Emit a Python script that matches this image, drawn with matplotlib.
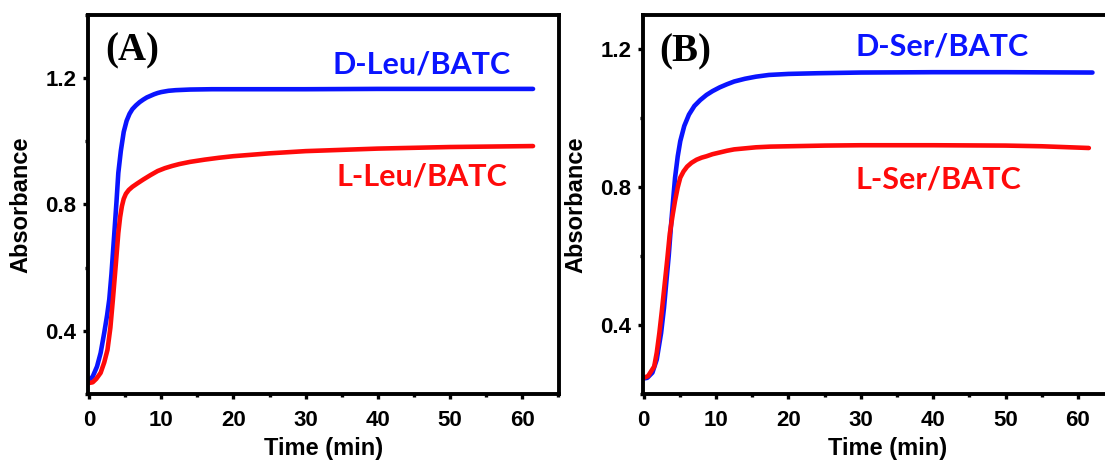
import numpy as np
import matplotlib.pyplot as plt
from matplotlib.ticker import MultipleLocator

# Panel A: Leu / BATC kinetics
t_d_leu = [0, 0.5, 1.1, 1.6, 2.1, 2.5, 2.8, 3.1, 3.5, 3.8, 4.05, 4.4, 4.8, 5.2, 5.6, 6.0, 6.5, 7.0, 7.5, 8.0, 8.5, 9.0, 9.5, 10.0, 11.0, 12.0, 14.0, 17.0, 20, 30, 40, 50, 61.5]
a_d_leu = [0.244, 0.255, 0.287, 0.33, 0.394, 0.45, 0.50, 0.58, 0.71, 0.81, 0.90, 0.97, 1.03, 1.065, 1.087, 1.102, 1.114, 1.124, 1.132, 1.139, 1.144, 1.149, 1.153, 1.156, 1.160, 1.162, 1.164, 1.165, 1.165, 1.165, 1.166, 1.166, 1.166]
t_l_leu = [0, 0.5, 1.0, 1.6, 2.1, 2.55, 2.95, 3.3, 3.7, 4.05, 4.3, 4.55, 4.8, 5.1, 5.5, 6.0, 6.7, 7.5, 8.5, 9.5, 10.5, 11.5, 12.5, 14, 16, 18, 20, 25, 30, 40, 50, 61.5]
a_l_leu = [0.235, 0.237, 0.248, 0.267, 0.30, 0.34, 0.41, 0.50, 0.61, 0.71, 0.76, 0.795, 0.818, 0.834, 0.846, 0.856, 0.867, 0.879, 0.893, 0.906, 0.915, 0.922, 0.928, 0.935, 0.942, 0.948, 0.953, 0.962, 0.969, 0.977, 0.982, 0.985]

# Panel B: Ser / BATC kinetics
t_d_ser = [0, 0.5, 1.2, 1.8, 2.4, 2.8, 3.1, 3.45, 3.75, 4.05, 4.33, 4.7, 5.05, 5.6, 6.25, 7.0, 7.8, 8.67, 9.5, 10.5, 11.5, 12.5, 14, 15.5, 17.3, 20, 24, 30, 40, 50, 62]
a_d_ser = [0.245, 0.247, 0.262, 0.30, 0.377, 0.45, 0.52, 0.60, 0.684, 0.76, 0.828, 0.89, 0.934, 0.978, 1.011, 1.036, 1.053, 1.068, 1.079, 1.090, 1.099, 1.107, 1.115, 1.121, 1.126, 1.129, 1.131, 1.133, 1.134, 1.134, 1.133]
t_l_ser = [0, 0.6, 1.45, 1.8, 2.16, 2.5, 2.9, 3.25, 3.6, 4.0, 4.33, 4.7, 5.05, 5.5, 6.0, 6.6, 7.3, 8.0, 8.67, 9.5, 10.5, 11.5, 12.5, 14, 15.5, 17.5, 20, 25, 30, 40, 50, 55, 61.5]
a_l_ser = [0.247, 0.252, 0.28, 0.32, 0.377, 0.44, 0.52, 0.59, 0.665, 0.72, 0.761, 0.80, 0.828, 0.846, 0.860, 0.871, 0.880, 0.886, 0.890, 0.896, 0.901, 0.906, 0.910, 0.913, 0.916, 0.918, 0.919, 0.921, 0.922, 0.922, 0.921, 0.919, 0.914]

BLUE = '#0a14ff'
RED = '#ff0a0a'

plt.rcParams['font.family'] = 'Liberation Sans'
plt.rcParams['font.weight'] = 'bold'

fig = plt.figure(figsize=(11.05, 4.62), dpi=100)
ax_a = fig.add_axes([88.0 / 1105, 68.0 / 462, 471.0 / 1105, 379.0 / 462])
ax_b = fig.add_axes([643.0 / 1105, 68.0 / 462, 490.0 / 1105, 379.0 / 462])

panels = [
    (ax_a, t_d_leu, a_d_leu, t_l_leu, a_l_leu, (-0.15, 65.1), (0.2, 1.4), '(A)', 'D-Leu/BATC', 'L-Leu/BATC',
     (2.2, 1.286), (33.7, 1.244), (34.3, 0.889)),
    (ax_b, t_d_ser, a_d_ser, t_l_ser, a_l_ser, (-0.1, 67.6), (0.2, 1.3), '(B)', 'D-Ser/BATC', 'L-Ser/BATC',
     (2.1, 1.193), (29.3, 1.208), (29.3, 0.824)),
]

for ax, td, ad, tl, al, xlim, ylim, tag, dlab, llab, tag_pos, d_pos, l_pos in panels:
    ax.plot(td, ad, color=BLUE, lw=3.3, solid_capstyle='round', solid_joinstyle='round')
    ax.plot(tl, al, color=RED, lw=3.3, solid_capstyle='round', solid_joinstyle='round')
    ax.set_xlim(*xlim)
    ax.set_ylim(*ylim)
    ax.xaxis.set_major_locator(MultipleLocator(10))
    ax.xaxis.set_minor_locator(MultipleLocator(5))
    ax.yaxis.set_minor_locator(MultipleLocator(0.2))
    ax.set_yticks([0.4, 0.8, 1.2])
    ax.set_yticklabels(['0.4', '0.8', '1.2'])
    for s in ax.spines.values():
        s.set_linewidth(2.8)
    ax.tick_params(which='major', direction='out', length=3.5, width=2.4, labelsize=16, pad=5)
    ax.tick_params(which='minor', direction='out', length=2.5, width=2.4)
    ax.tick_params(axis='x', which='major', pad=8)
    ax.set_xlabel('Time (min)', fontsize=17, fontweight='bold', labelpad=4)
    ax.set_ylabel('Absorbance', fontsize=17, fontweight='bold', labelpad=9)

    ax.text(tag_pos[0], tag_pos[1], tag, family='Liberation Serif', fontsize=28,
            fontweight='bold', va='center', ha='left')
    ax.text(d_pos[0], d_pos[1], dlab, family='Lato', fontsize=22, fontweight='bold',
            color=BLUE, va='center', ha='left')
    ax.text(l_pos[0], l_pos[1], llab, family='Lato', fontsize=22, fontweight='bold',
            color=RED, va='center', ha='left')

fig.savefig('out.png', dpi=100)
